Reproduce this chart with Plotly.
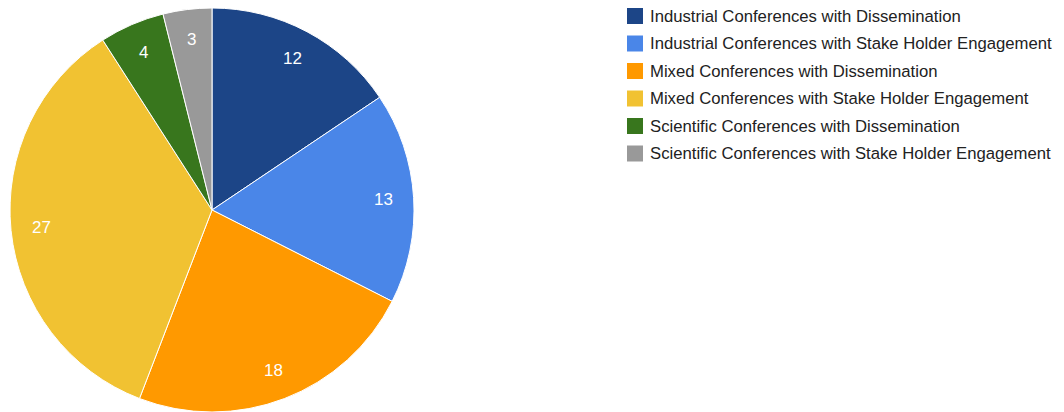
import math
import plotly.graph_objects as go

categories = [
    "Industrial Conferences with Dissemination",
    "Industrial Conferences with Stake Holder Engagement",
    "Mixed Conferences with Dissemination",
    "Mixed Conferences with Stake Holder Engagement",
    "Scientific Conferences with Dissemination",
    "Scientific Conferences with Stake Holder Engagement",
]
values = [12, 13, 18, 27, 4, 3]
colors = ["#1c4587", "#4a86e8", "#ff9900", "#f1c232", "#38761d", "#999999"]

# page has an 8px body margin; figure sized to fit the window
OFF = 8
W, H = 1064 - OFF, 412 - OFF
FONT = "Liberation Sans, Arial, sans-serif"

# pie geometry (figure pixels)
cx, cy, R = 212 - OFF, H / 2, H / 2
dom_x = [(cx - R) / W, (cx + R) / W]

fig = go.Figure(go.Pie(
    labels=categories,
    values=values,
    sort=False,
    direction="clockwise",
    rotation=0,
    marker=dict(colors=colors, line=dict(color="white", width=1)),
    textinfo="none",
    domain=dict(x=dom_x, y=[0, 1]),
    showlegend=False,
    hoverinfo="label+value+percent",
))

shapes = []
annotations = []

# slice value labels, placed at 0.85 of the radius along each slice's mid-angle
total = sum(values)
cum = 0
for v in values:
    theta = 2 * math.pi * (cum + v / 2) / total
    cum += v
    lx = cx + 0.85 * R * math.sin(theta)
    ly = cy - 0.85 * R * math.cos(theta)
    annotations.append(dict(
        text=str(v), xref="paper", yref="paper",
        x=lx / W, y=1 - ly / H, xanchor="center", yanchor="middle",
        showarrow=False, font=dict(family=FONT, size=17, color="white"),
    ))

# legend
x0 = 627 - OFF
y_first = 16 - OFF
step = 27.5
sq = 16
for i, (cat, col) in enumerate(zip(categories, colors)):
    yc = y_first + i * step
    shapes.append(dict(
        type="rect", xref="paper", yref="paper",
        x0=x0 / W, x1=(x0 + sq) / W,
        y0=1 - (yc + sq / 2) / H, y1=1 - (yc - sq / 2) / H,
        fillcolor=col, line=dict(width=0),
    ))
    annotations.append(dict(
        text=cat, xref="paper", yref="paper",
        x=(650 - OFF - 2) / W, y=1 - yc / H, xanchor="left", yanchor="middle",
        showarrow=False, font=dict(family=FONT, size=16.7, color="#222222"),
    ))

fig.update_layout(
    width=W, height=H,
    margin=dict(l=0, r=0, t=0, b=0),
    paper_bgcolor="white",
    plot_bgcolor="white",
    shapes=shapes,
    annotations=annotations,
)

fig.write_html("out.html")
